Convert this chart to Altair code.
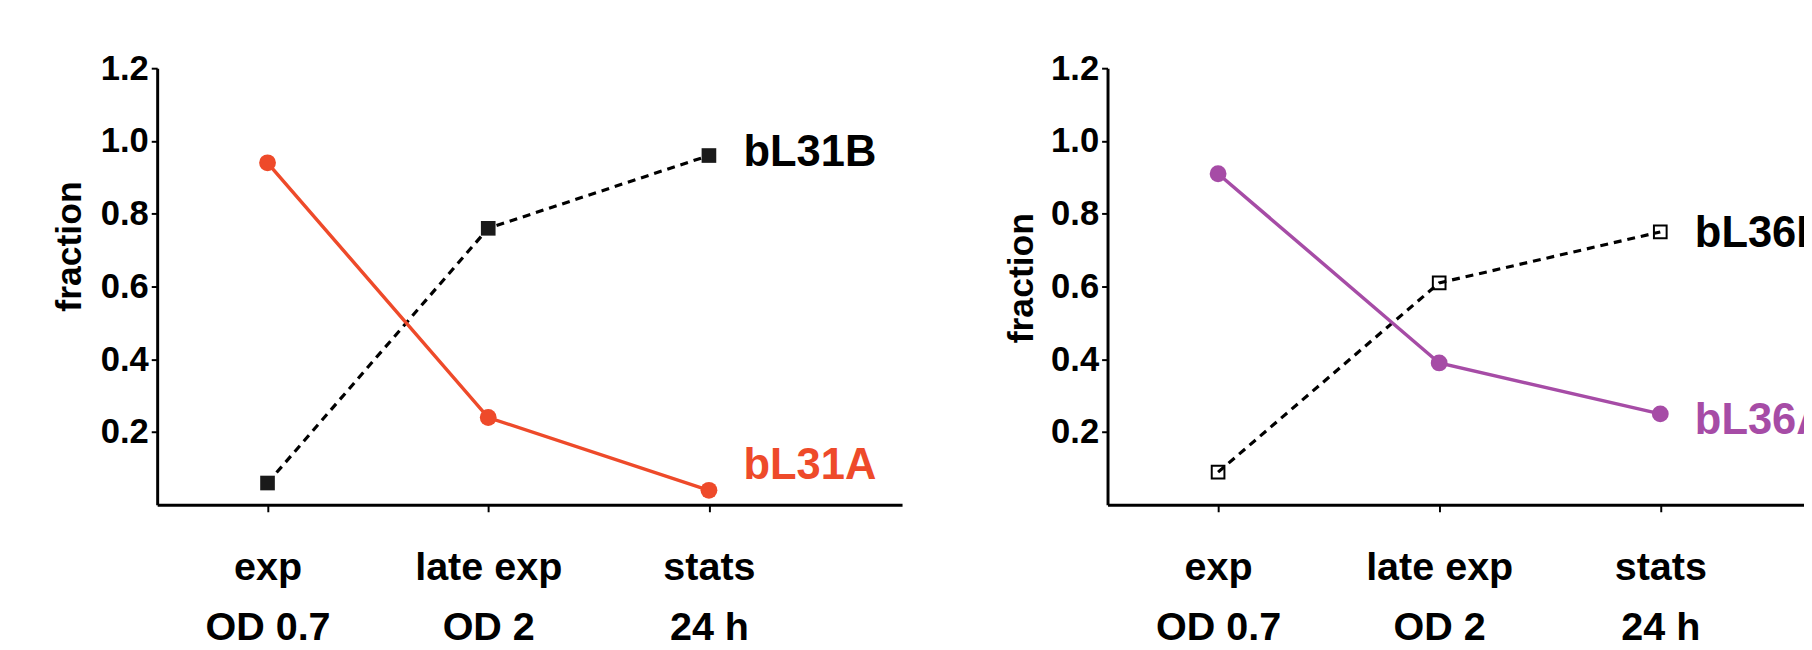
import altair as alt
import pandas as pd

# ---- data ----
stages = ["exp", "late exp", "stats"]
conditions = ["OD 0.7", "OD 2", "24 h"]
stage_index = [1, 2, 3]

bL31A = [0.94, 0.24, 0.04]
bL31B = [0.06, 0.76, 0.96]
bL36A = [0.91, 0.39, 0.25]
bL36B = [0.09, 0.61, 0.75]

y_ticks = [0.2, 0.4, 0.6, 0.8, 1.0, 1.2]

RED = "#EE4A2A"
PURPLE = "#A64CA6"
FONT = "Liberation Sans"

label_expr = " : ".join(
    f"datum.value == {i} ? ['{s}', '{c}']"
    for i, s, c in zip(stage_index, stages, conditions)
) + " : ''"


def series_df(name, values):
    return pd.DataFrame({"pos": stage_index, "value": values, "series": name})


def x_enc(xmax):
    return alt.X(
        "pos:Q",
        scale=alt.Scale(domain=[0.5, xmax], nice=False, zero=False),
        axis=alt.Axis(
            values=stage_index, labelExpr=label_expr, title=None, grid=False,
            domainWidth=3, domainColor="black", tickColor="black", tickWidth=2,
            tickSize=7, labelFontSize=40, labelLineHeight=60, labelPadding=37,
            labelFont=FONT, labelFontWeight="bold", labelColor="black",
            labelFlush=False, labelOverlap=False,
        ),
    )


def y_enc(title_y, title_pad):
    return alt.Y(
        "value:Q",
        scale=alt.Scale(domain=[0, 1.2], nice=False),
        axis=alt.Axis(
            values=y_ticks, format=".1f", title="fraction", grid=False,
            titleFont=FONT, titleFontSize=36, titleFontWeight="bold",
            titleColor="black", titleY=title_y, titlePadding=title_pad,
            labelFont=FONT, labelFontSize=35, labelFontWeight="bold",
            labelColor="black", labelPadding=3, tickSize=6, tickWidth=2,
            tickColor="black", domainWidth=3, domainColor="black",
        ),
    )


def panel(a_name, a_vals, b_name, b_vals, color, b_filled, width, xmax,
          title_y, title_pad, dy_a, dy_b):
    da = series_df(a_name, a_vals)
    db = series_df(b_name, b_vals)
    x = x_enc(xmax)
    y = y_enc(title_y, title_pad)
    line_a = alt.Chart(da).mark_line(color=color, strokeWidth=3.5).encode(x=x, y=y)
    pts_a = alt.Chart(da).mark_point(
        shape="circle", filled=True, color=color, size=290, opacity=1
    ).encode(x=x, y=y)
    line_b = alt.Chart(db).mark_line(
        color="black", strokeWidth=3.2, strokeDash=[8, 6]
    ).encode(x=x, y=y)
    if b_filled:
        pts_b = alt.Chart(db).mark_point(
            shape="square", filled=True, color="#1a1a1a", size=220, opacity=1
        ).encode(x=x, y=y)
    else:
        pts_b = alt.Chart(db).mark_point(
            shape="square", filled=False, color="black", size=165,
            strokeWidth=2, opacity=1
        ).encode(x=x, y=y)
    txt_a = alt.Chart(da.iloc[[-1]]).mark_text(
        align="left", baseline="middle", dx=35, dy=dy_a, font=FONT,
        fontSize=44, fontWeight="bold", color=color, clip=True
    ).encode(x=x, y=y, text="series:N")
    txt_b = alt.Chart(db.iloc[[-1]]).mark_text(
        align="left", baseline="middle", dx=35, dy=dy_b, font=FONT,
        fontSize=44, fontWeight="bold", color="black", clip=True
    ).encode(x=x, y=y, text="series:N")
    return alt.layer(line_b, line_a, pts_b, pts_a, txt_a, txt_b).properties(
        width=width, height=442
    )


left = panel("bL31A", bL31A, "bL31B", bL31B, RED, True, 754, 3.875,
             180, 12, -24, -2)
right = panel("bL36A", bL36A, "bL36B", bL36B, PURPLE, False, 705, 3.65,
              212, 10, 7, 2)

chart = alt.hconcat(left, right, spacing=103).properties(
    padding={"left": 44, "top": 40, "right": 0, "bottom": 0}
).configure_view(stroke=None)

chart.save("out.html", embed_options={"renderer": "svg", "actions": False})
